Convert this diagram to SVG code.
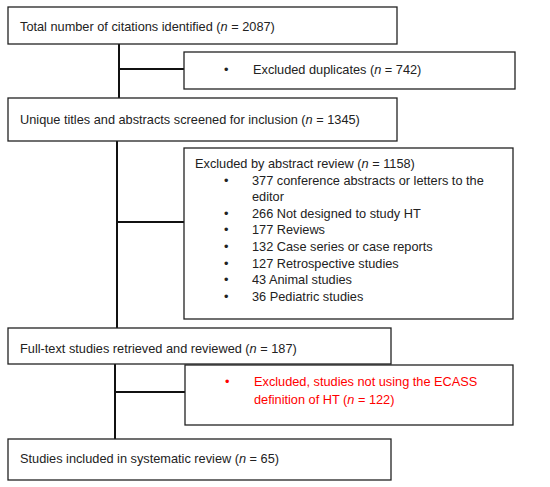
<svg xmlns="http://www.w3.org/2000/svg" width="550" height="487" viewBox="0 0 550 487">
<style>
.box{fill:#fff;stroke:#222;stroke-width:1.3}
.t{font-family:"Liberation Sans",Arial,sans-serif;font-size:12.75px;fill:#222}
.r{fill:#f00}
.c{stroke:#111;stroke-width:2;fill:none}
</style>
<rect width="550" height="487" fill="#fff"/>
<g id="connectors">
<path class="c" d="M119 44V98M119 69H184"/>
<path class="c" d="M117 141V328M117 222H184"/>
<path class="c" d="M115 364V439M115 392H185"/>
</g>
<g id="n1"><rect class="box" x="8" y="7" width="389" height="37"/>
<text class="t" x="20" y="31">Total number of citations identified (<tspan font-style="italic">n</tspan> = 2087)</text></g>
<g id="n2"><rect class="box" x="184" y="52" width="331" height="37"/>
<text class="t" x="224" y="74">•</text>
<text class="t" x="253" y="74">Excluded duplicates (<tspan font-style="italic">n</tspan> = 742)</text></g>
<g id="n3"><rect class="box" x="8" y="98" width="389" height="43"/>
<text class="t" x="20" y="124">Unique titles and abstracts screened for inclusion (<tspan font-style="italic">n</tspan> = 1345)</text></g>
<g id="n4"><rect class="box" x="184" y="148" width="329" height="171"/>
<text class="t" x="195" y="168">Excluded by abstract review (<tspan font-style="italic">n</tspan> = 1158)</text>
<g class="t">
<text x="224" y="185">•</text><text x="252" y="185">377 conference abstracts or letters to the</text>
<text x="252" y="201">editor</text>
<text x="224" y="218">•</text><text x="252" y="218">266 Not designed to study HT</text>
<text x="224" y="234">•</text><text x="252" y="234">177 Reviews</text>
<text x="224" y="251">•</text><text x="252" y="251">132 Case series or case reports</text>
<text x="224" y="268">•</text><text x="252" y="268">127 Retrospective studies</text>
<text x="224" y="284">•</text><text x="252" y="284">43 Animal studies</text>
<text x="224" y="301">•</text><text x="252" y="301">36 Pediatric studies</text>
</g></g>
<g id="n5"><rect class="box" x="8" y="328" width="383" height="36"/>
<text class="t" x="20" y="353">Full-text studies retrieved and reviewed (<tspan font-style="italic">n</tspan> = 187)</text></g>
<g id="n6"><rect class="box" x="185" y="365" width="328" height="60"/>
<text class="t r" x="225" y="386">•</text>
<text class="t r" x="254" y="386">Excluded, studies not using the ECASS</text>
<text class="t r" x="254" y="404">definition of HT (<tspan font-style="italic">n</tspan> = 122)</text></g>
<g id="n7"><rect class="box" x="8" y="439" width="383" height="41"/>
<text class="t" x="20" y="463">Studies included in systematic review (<tspan font-style="italic">n</tspan> = 65)</text></g>
</svg>
